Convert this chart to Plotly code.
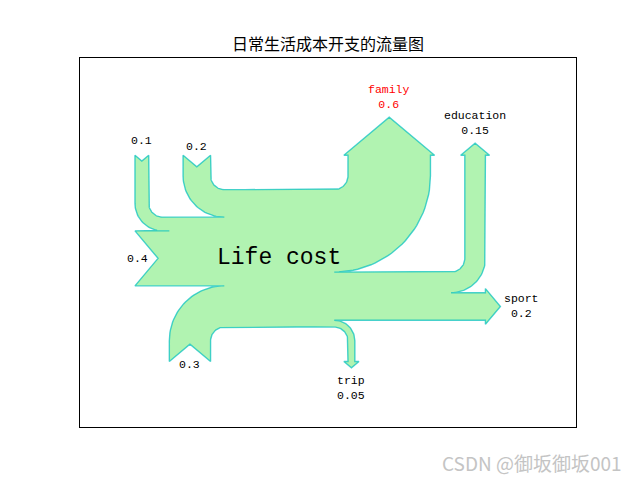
import numpy as np
import plotly.graph_objects as go

# ---------------- data ----------------
flows = [0.2, 0.1, 0.4, 0.3, -0.6, -0.05, -0.15, -0.2]
labels = ["", "", "", "", "family", "trip", "education", "sport"]
orientations = [1, 1, 0, -1, 1, -1, 1, 0]
patch_label = "Life cost"
title_text = "日常生活成本开支的流量图"
label_colors = ["black", "black", "black", "black", "red", "black", "black", "black"]
watermark = "CSDN @御坂御坂001"

# ---------------- Sankey geometry (port of matplotlib.sankey rules) ----------------
RIGHT, UP, DOWN = 0, 1, 3
SCALE, GAP, RADIUS, SHOULDER, OFFSET, HEAD_ANGLE, MARGIN = 1.0, 0.25, 0.1, 0.03, 0.15, 100, 0.4
TRUNK, PATHLEN = 1.0, 0.25
PITCH = np.tan(np.pi * (1 - HEAD_ANGLE / 180.0) / 2.0)

ARC = np.array([[1.00000000e+00, 0.00000000e+00],
                [1.00000000e+00, 2.65114773e-01],
                [8.94571235e-01, 5.19642327e-01],
                [7.07106781e-01, 7.07106781e-01],
                [5.19642327e-01, 8.94571235e-01],
                [2.65114773e-01, 1.00000000e+00],
                [0.00000000e+00, 1.00000000e+00]])


def arc(quadrant, cw, radius, center):
    if quadrant in (0, 2):
        v = ARC if cw else ARC[:, ::-1]
    else:
        v = np.column_stack((-ARC[:, 1], ARC[:, 0])) if cw else np.column_stack((-ARC[:, 0], ARC[:, 1]))
    if quadrant > 1:
        radius = -radius
    pts = radius * v + np.asarray(center, dtype=float)
    codes = ['L'] + ['C'] * 6
    return [(c, (float(p[0]), float(p[1]))) for c, p in zip(codes, pts)]


def add_input(path, angle, flow, length):
    x, y = path[-1][1]
    dipdepth = (flow / 2) * PITCH
    if angle == RIGHT:
        x -= length
        dip = [x + dipdepth, y + flow / 2.0]
        path.extend([('L', (x, y)), ('L', tuple(dip)), ('L', (x, y + flow)), ('L', (x + GAP, y + flow))])
        return dip, [dip[0] - OFFSET, dip[1]]
    x -= GAP
    sign = 1 if angle == UP else -1
    dip = [x - flow / 2, y - sign * (length - dipdepth)]
    quadrant = 2 if angle == DOWN else 1
    path.extend(arc(quadrant, angle == UP, RADIUS, (x + RADIUS, y - sign * RADIUS)))
    path.extend([('L', (x, y - sign * length)), ('L', tuple(dip)), ('L', (x - flow, y - sign * length))])
    path.extend(arc(quadrant, angle == DOWN, flow + RADIUS, (x + RADIUS, y - sign * RADIUS)))
    path.append(('L', (x - flow, y + sign * flow)))
    return dip, [dip[0], dip[1] - sign * OFFSET]


def add_output(path, angle, flow, length):
    x, y = path[-1][1]
    tipheight = (SHOULDER - flow / 2) * PITCH
    if angle == RIGHT:
        x += length
        tip = [x + tipheight, y + flow / 2.0]
        path.extend([('L', (x, y)), ('L', (x, y + SHOULDER)), ('L', tuple(tip)),
                     ('L', (x, y - SHOULDER + flow)), ('L', (x, y + flow)), ('L', (x - GAP, y + flow))])
        return tip, [tip[0] + OFFSET, tip[1]]
    x += GAP
    sign, quadrant = (1, 3) if angle == UP else (-1, 0)
    tip = [x - flow / 2.0, y + sign * (length + tipheight)]
    path.extend(arc(quadrant, angle == UP, RADIUS, (x - RADIUS, y + sign * RADIUS)))
    path.extend([('L', (x, y + sign * length)), ('L', (x - SHOULDER, y + sign * length)),
                 ('L', tuple(tip)), ('L', (x + SHOULDER - flow, y + sign * length)),
                 ('L', (x - flow, y + sign * length))])
    path.extend(arc(quadrant, angle == DOWN, RADIUS - flow, (x - RADIUS, y + sign * RADIUS)))
    path.append(('L', (x - flow, y + sign * flow)))
    return tip, [tip[0], tip[1] + sign * OFFSET]


def revert(path):
    out, nxt = [], 'L'
    for code, pos in path[::-1]:
        out.append((nxt, pos))
        nxt = code
    return out


sflows = [SCALE * f for f in flows]
n = len(sflows)
is_in = [True if f > 0 else False for f in sflows]
angles = []
for f, o, inp in zip(sflows, orientations, is_in):
    if o == 1:
        angles.append(DOWN if inp else UP)
    elif o == 0:
        angles.append(RIGHT)
    else:
        angles.append(UP if inp else DOWN)

plen = [0.0] * n
ul = ur = ll = lr = PATHLEN
for i in range(n):
    if angles[i] == DOWN and is_in[i]:
        plen[i] = ul; ul += sflows[i]
    elif angles[i] == UP and not is_in[i]:
        plen[i] = ur; ur -= sflows[i]
for i in reversed(range(n)):
    if angles[i] == UP and is_in[i]:
        plen[i] = ll; ll += sflows[i]
    elif angles[i] == DOWN and not is_in[i]:
        plen[i] = lr; lr -= sflows[i]

gain = sum(max(f, 0) for f in sflows)
loss = sum(min(f, 0) for f in sflows)
a = GAP - TRUNK / 2.0
b = TRUNK / 2.0 - GAP
urpath = [('M', (a, gain / 2)), ('L', (a / 2, gain / 2)), ('C', (a / 8, gain / 2)),
          ('C', (b / 8, -loss / 2)), ('L', (b / 2, -loss / 2)), ('L', (b, -loss / 2))]
llpath = [('L', (b, loss / 2)), ('L', (b / 2, loss / 2)), ('C', (b / 8, loss / 2)),
          ('C', (a / 8, -gain / 2)), ('L', (a / 2, -gain / 2)), ('L', (a, -gain / 2))]
lrpath = [('L', (b, loss / 2))]
ulpath = [('L', (a, gain / 2))]

tips = [None] * n
locs = [None] * n
for i in range(n):
    if angles[i] == DOWN and is_in[i]:
        tips[i], locs[i] = add_input(ulpath, angles[i], sflows[i], plen[i])
    elif angles[i] == UP and not is_in[i]:
        tips[i], locs[i] = add_output(urpath, angles[i], sflows[i], plen[i])
for i in reversed(range(n)):
    if angles[i] == UP and is_in[i]:
        tips[i], locs[i] = add_input(llpath, angles[i], sflows[i], plen[i])
    elif angles[i] == DOWN and not is_in[i]:
        tips[i], locs[i] = add_output(lrpath, angles[i], sflows[i], plen[i])
has_left = False
for i in reversed(range(n)):
    if angles[i] == RIGHT and is_in[i]:
        if not has_left:
            if llpath[-1][1][0] > ulpath[-1][1][0]:
                llpath.append(('L', (ulpath[-1][1][0], llpath[-1][1][1])))
            has_left = True
        tips[i], locs[i] = add_input(llpath, angles[i], sflows[i], 0.0)
has_right = False
for i in range(n):
    if angles[i] == RIGHT and not is_in[i]:
        if not has_right:
            if urpath[-1][1][0] < lrpath[-1][1][0]:
                urpath.append(('L', (lrpath[-1][1][0], urpath[-1][1][1])))
            has_right = True
        tips[i], locs[i] = add_output(urpath, angles[i], sflows[i], 0.0)
if not has_left:
    ulpath.pop(); llpath.pop()
if not has_right:
    lrpath.pop(); urpath.pop()

path = urpath + revert(lrpath) + llpath + revert(ulpath)
verts = np.array([p for _, p in path])

# flatten to polyline
px, py = [], []
i = 0
t = np.linspace(0, 1, 17)[1:]
while i < len(path):
    code, p = path[i]
    if code == 'C' and i + 2 < len(path) and px:
        p0 = np.array([px[-1], py[-1]])
        c1 = np.array(path[i][1]); c2 = np.array(path[i + 1][1]); p3 = np.array(path[i + 2][1])
        for tt in t:
            q = ((1 - tt) ** 3) * p0 + 3 * ((1 - tt) ** 2) * tt * c1 + 3 * (1 - tt) * tt ** 2 * c2 + tt ** 3 * p3
            px.append(q[0]); py.append(q[1])
        i += 3
    else:
        px.append(p[0]); py.append(p[1])
        i += 1
px.append(px[0]); py.append(py[0])

locs_a = np.array(locs)
ext = (min(verts[:, 0].min(), locs_a[:, 0].min()), max(verts[:, 0].max(), locs_a[:, 0].max()),
       min(verts[:, 1].min(), locs_a[:, 1].min()), max(verts[:, 1].max(), locs_a[:, 1].max()))

# ---------------- figure ----------------
# page body has an 8px margin, so the figure is 632x472 placed at (8, 8)
W, H = 632, 472
ML, MR, MT, MB = 72, 64, 50, 53
pw, ph = W - ML - MR, H - MT - MB
xr = [ext[0] - MARGIN, ext[1] + MARGIN]
yc = (ext[2] + ext[3]) / 2
yhalf = (xr[1] - xr[0]) * ph / pw / 2
yr = [yc - yhalf, yc + yhalf]

fig = go.Figure()
fig.add_trace(go.Scatter(x=px, y=py, mode='lines', fill='toself',
                         fillcolor='rgba(144,238,144,0.7)',
                         line=dict(color='rgba(0,191,191,0.7)', width=1.4),
                         hoverinfo='skip', showlegend=False))

for f, lab, loc, col in zip(flows, labels, locs, label_colors):
    q = '%G' % abs(f)
    txt = (lab + '<br>' + q) if lab else q
    fig.add_annotation(x=loc[0], y=loc[1], xref='x', yref='y', text=txt, showarrow=False,
                       xanchor='center', yanchor='middle',
                       font=dict(family='Liberation Mono', size=11.5, color=col))

fig.add_annotation(x=0, y=0, xref='x', yref='y', text=patch_label, showarrow=False,
                   xanchor='center', yanchor='middle',
                   font=dict(family='Liberation Mono', size=23, color='black'))

fig.add_annotation(x=(616 - ML) / pw, y=(H - 454 - MB) / ph, xref='paper', yref='paper',
                   text=watermark, showarrow=False, xanchor='right', yanchor='middle',
                   font=dict(family='Noto Sans CJK SC', size=19, color='#c4c4c4'))

fig.update_layout(
    width=W, height=H,
    margin=dict(l=ML, r=MR, t=MT, b=MB),
    paper_bgcolor='white', plot_bgcolor='white',
    title=dict(text=title_text, x=0.5, xref='paper', xanchor='center',
               y=1 - 36 / H, yref='container', yanchor='middle',
               font=dict(family='Noto Sans CJK SC', size=16, color='black')),
    xaxis=dict(range=xr, showgrid=False, zeroline=False, showticklabels=False, ticks='',
               showline=True, mirror=True, linecolor='black', linewidth=1.1, fixedrange=True),
    yaxis=dict(range=yr, showgrid=False, zeroline=False, showticklabels=False, ticks='',
               showline=True, mirror=True, linecolor='black', linewidth=1.1, fixedrange=True),
)

fig.write_html("out.html")
